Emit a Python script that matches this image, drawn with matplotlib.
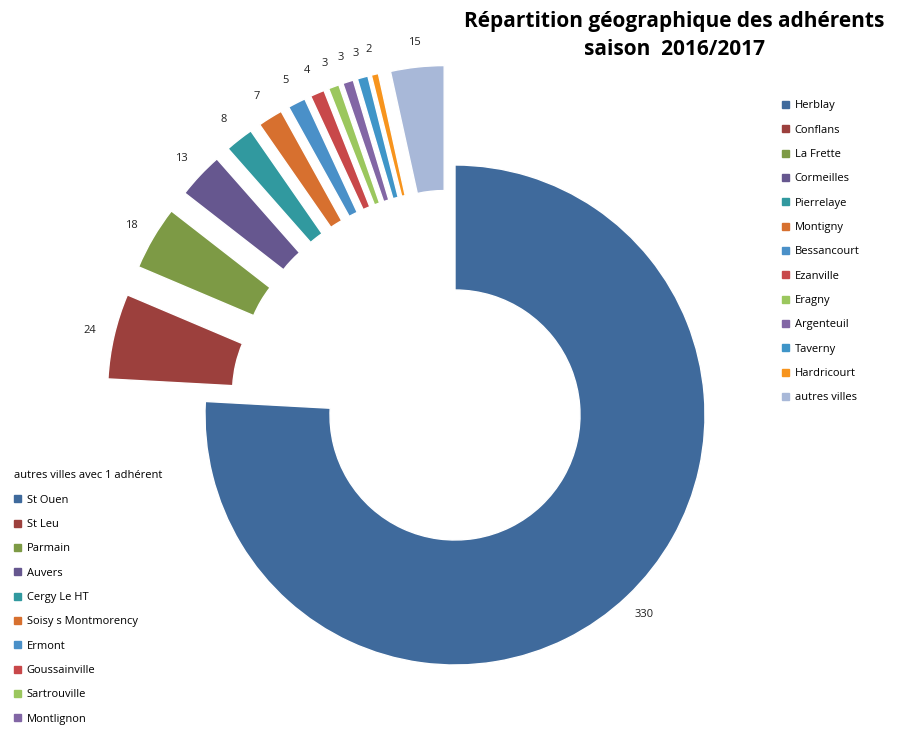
import matplotlib.pyplot as plt
from matplotlib.patches import Patch

plt.rcParams["font.family"] = "Open Sans"

cities = ["Herblay", "Conflans", "La Frette", "Cormeilles", "Pierrelaye", "Montigny",
          "Bessancourt", "Ezanville", "Eragny", "Argenteuil", "Taverny", "Hardricourt",
          "autres villes"]
members = [330, 24, 18, 13, 8, 7, 5, 4, 3, 3, 3, 2, 15]
colors = ["#3F6A9C", "#9C403D", "#7D9A45", "#66578F", "#31999F", "#D7702F", "#4A90C8",
          "#C8484A", "#9BC75E", "#8266A5", "#3F95C8", "#F7941D", "#A8B8D8"]

single_cities = ["St Ouen", "St Leu", "Parmain", "Auvers", "Cergy Le HT",
                 "Soisy s Montmorency", "Ermont", "Goussainville", "Sartrouville", "Montlignon"]

fig = plt.figure(figsize=(9.24, 7.43), dpi=100)
ax = fig.add_axes([0, 0, 1, 1])
# explode offset is in data units (pixels here)
explode = [0] + [100] * (len(members) - 1)
wedges, texts = ax.pie(members, colors=colors, startangle=90, counterclock=False,
                       explode=explode, center=(455, 328), radius=250,
                       labels=[str(v) for v in members], labeldistance=1.1,
                       wedgeprops=dict(width=125, edgecolor="white", linewidth=1),
                       textprops=dict(fontsize=8, color="#222222"))
for t in texts:
    t.set_ha("center")
ax.set_xlim(0, 924)
ax.set_ylim(0, 743)
ax.set_aspect("equal")
ax.axis("off")

fig.text(0.73, 0.985, "Répartition géographique des adhérents\nsaison  2016/2017",
         ha="center", va="top", fontsize=15, fontweight="bold", linespacing=1.45)

h1 = [Patch(color=c) for c in colors]
fig.legend(h1, cities, loc="upper left", bbox_to_anchor=(778 / 924, 1 - 96 / 743),
           frameon=False, fontsize=8, handlelength=0.6, handleheight=0.6,
           handletextpad=0.5, labelspacing=1.2, borderaxespad=0)

h2 = [Patch(color=c) for c in colors[:len(single_cities)]]
fig.legend(h2, single_cities, loc="upper left", bbox_to_anchor=(10 / 924, 1 - 466 / 743),
           frameon=False, fontsize=8, handlelength=0.6, handleheight=0.6,
           handletextpad=0.5, labelspacing=1.2, borderaxespad=0,
           title="autres villes avec 1 adhérent", title_fontsize=8, alignment="left")

fig.savefig("out.png", dpi=100)
